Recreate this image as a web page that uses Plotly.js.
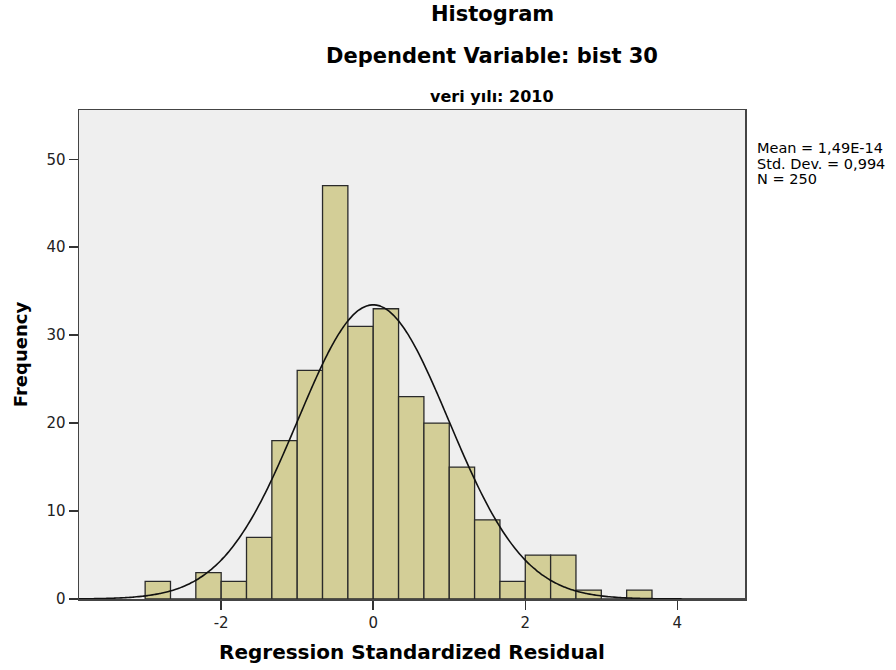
<!DOCTYPE html>
<html>
<head>
<meta charset="utf-8">
<script src="https://cdn.plot.ly/plotly-3.0.1.min.js"></script>
<style>html,body{margin:0;padding:0;background:#fff;}#chart{width:896px;height:670px;}</style>
</head>
<body>
<div id="chart"></div>
<script>
// ---- Data ----
const binLower = [-3, -2.6667, -2.3333, -2, -1.6667, -1.3333, -1, -0.6667, -0.3333, 0, 0.3333, 0.6667, 1, 1.3333, 1.6667, 2, 2.3333, 2.6667, 3, 3.3333];
const binCounts = [2, 0, 3, 2, 7, 18, 26, 47, 31, 33, 23, 20, 15, 9, 2, 5, 5, 1, 0, 1];
const binWidth = 1 / 3;
const statMean = 1.49e-14;
const statSD = 0.994;
const statN = 250;
const statLabels = ["Mean = 1,49E-14", "Std. Dev. = 0,994", "N = 250"];
const xTicks = [-2, 0, 2, 4];
const yTicks = [0, 10, 20, 30, 40, 50];
const titleLines = ["Histogram", "Dependent Variable: bist 30", "veri yılı: 2010"];
const xTitle = "Regression Standardized Residual";
const yTitle = "Frequency";

// ---- Fitted normal curve from the stated statistics ----
const xMin = -3.87, xMax = 4.89;
const curveX = [], curveY = [];
const peak = statN * binWidth / (statSD * Math.sqrt(2 * Math.PI));
for (let i = 0; i <= 300; i++) {
  const x = xMin + (xMax - xMin) * i / 300;
  curveX.push(x);
  curveY.push(peak * Math.exp(-Math.pow(x - statMean, 2) / (2 * statSD * statSD)));
}

const barX = binLower.map(v => v + binWidth / 2);

const traces = [
  {
    type: 'bar',
    x: barX,
    y: binCounts,
    width: binWidth,
    marker: {color: 'rgb(211,206,151)', line: {color: '#2a2a2a', width: 1.3}},
    hoverinfo: 'x+y'
  },
  {
    type: 'scatter',
    mode: 'lines',
    x: curveX,
    y: curveY,
    line: {color: '#111', width: 1.6, shape: 'spline'},
    hoverinfo: 'skip'
  }
];

const L = 79, R = 745, T = 110, B = 599;
const px = v => (v - L) / (R - L);
const py = v => (B - v) / (B - T);
const font = 'DejaVu Sans, Arial, sans-serif';

const annotations = [
  {text: '<b>' + titleLines[0] + '</b>', x: px(492), y: py(14), size: 21},
  {text: '<b>' + titleLines[1] + '</b>', x: px(492), y: py(56), size: 21},
  {text: '<b>' + titleLines[2] + '</b>', x: px(492), y: py(96), size: 16}
].map(a => ({
  text: a.text, x: a.x, y: a.y, xref: 'paper', yref: 'paper',
  xanchor: 'center', yanchor: 'middle', showarrow: false,
  font: {family: font, size: a.size, color: '#000'}
}));

const statY = [148, 164, 179];
statLabels.forEach((s, i) => {
  annotations.push({
    text: s, x: px(755), y: py(statY[i]), xref: 'paper', yref: 'paper',
    xanchor: 'left', yanchor: 'middle', showarrow: false,
    font: {family: font, size: 14.5, color: '#000'}
  });
});

const layout = {
  width: 896, height: 670,
  margin: {l: L, r: 896 - R, t: T, b: 670 - B, pad: 0},
  paper_bgcolor: '#fff',
  plot_bgcolor: '#efefef',
  showlegend: false,
  bargap: 0,
  xaxis: {
    range: [xMin, xMax],
    tickmode: 'array', tickvals: xTicks, ticktext: xTicks.map(String),
    ticks: 'outside', ticklen: 9, tickwidth: 1.5, tickcolor: '#333',
    showgrid: false, zeroline: false,
    showline: true, mirror: true, linecolor: '#444', linewidth: 1.5,
    tickfont: {family: font, size: 15, color: '#222'},
    title: {text: '<b>' + xTitle + '</b>', font: {family: font, size: 20, color: '#000'}, standoff: 14}
  },
  yaxis: {
    range: [0, 55.6],
    tickmode: 'array', tickvals: yTicks, ticktext: yTicks.map(String),
    ticks: 'outside', ticklen: 9, tickwidth: 1.5, tickcolor: '#333',
    showgrid: false, zeroline: false,
    showline: true, mirror: true, linecolor: '#444', linewidth: 1.5,
    tickfont: {family: font, size: 15, color: '#222'},
    title: {text: '<b>' + yTitle + '</b>', font: {family: font, size: 18, color: '#000'}, standoff: 14}
  },
  annotations: annotations
};

Plotly.newPlot('chart', traces, layout, {displayModeBar: false, staticPlot: true});
</script>
</body>
</html>
